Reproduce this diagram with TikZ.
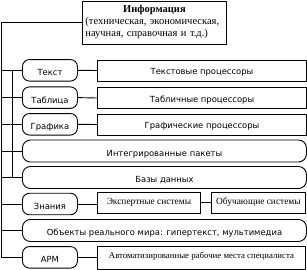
\documentclass[tikz,border=0pt]{standalone}
\usepackage{fontspec}
\setmainfont{Liberation Serif}
\newfontfamily\sansf{DejaVu Sans}
\begin{document}
\begin{tikzpicture}[x=1pt,y=-1pt,
  line width=0.9pt,
  every node/.style={inner sep=0pt},
  sansfnt/.style={font=\sansf\fontsize{8.4}{10}\selectfont},
  pill/.style={draw, rounded corners=7pt, minimum width=55pt, minimum height=21.5pt,
    anchor=west, sansfnt, text height=11.1pt, text depth=0pt},
  rbox/.style={draw, minimum width=209pt, minimum height=21pt, anchor=west,
    sansfnt, text height=8.1pt, text depth=0pt},
  wbox/.style={draw, rounded corners=8pt, minimum width=284pt, minimum height=22pt,
    anchor=west, sansfnt, text height=10.7pt, text depth=0pt},
  sbox/.style={draw, minimum height=21pt, anchor=west,
    font=\fontsize{9.4}{11}\selectfont, text height=3.4pt, text depth=0pt}
]
\useasboundingbox (0,0) rectangle (307,269);
\coordinate (spine) at (1.5,0);
\coordinate (spine2) at (12,0);

\node[draw, anchor=north west, minimum height=43pt, text width=138pt, inner xsep=3pt,
  align=left, font=\fontsize{10.5}{12}\selectfont] (info) at (82,0.5)
  {\hfill\textbf{Информация}\hfill\null\\(техническая, экономическая,\\научная, справочная и т.д.)};

\node[pill] (tekst) at (22,70.3) {Текст};
\node[pill] (tabl) at (22,97.6) {Таблица};
\node[pill] (graf) at (22,124.3) {Графика};
\node[wbox] (integr) at (22,151) {Интегрированные пакеты};
\node[wbox] (bazy) at (22,177.5) {Базы данных};
\node[pill] (znan) at (22,204) {Знания};
\node[wbox] (obj) at (22,230.5) {Объекты реального мира: гипертекст, мультимедиа};
\node[pill] (apm) at (22,257.3) {АРМ};

\node[rbox] (tekstp) at (97,70.5) {Текстовые процессоры};
\node[rbox] (tablp) at (97,98) {Табличные процессоры};
\node[rbox] (grafp) at (97,124.5) {Графические процессоры};
\node[sbox, minimum width=103pt] (eksp) at (97,202.5) {Экспертные системы};
\node[sbox, minimum width=94pt] (obuch) at (211,202.5) {Обучающие системы};
\node[sbox, minimum width=208pt, minimum height=23pt, font=\fontsize{8.8}{11}\selectfont,
  text height=2pt] (avto) at (97,257.5) {Автоматизированные рабочие места специалиста};

\draw (info.west) -- (spine |- info.west) -- (spine |- apm.west) -- (apm.west);
\foreach \n in {tekst,tabl,graf,integr,bazy,znan,obj}
  \draw (spine |- \n.west) -- (\n.west);
\draw (spine2 |- tekst.west) -- (spine2 |- bazy.west);

\draw (tekst.east) -- (tekstp.west);
\draw (tabl.east) -- (tablp.west);
\draw (graf.east) -- (grafp.west);
\draw (znan.east) -- (znan.east -| eksp.west);
\draw (eksp.east) -- (obuch.west);
\draw (apm.east) -- (apm.east -| avto.west);
\end{tikzpicture}
\end{document}
